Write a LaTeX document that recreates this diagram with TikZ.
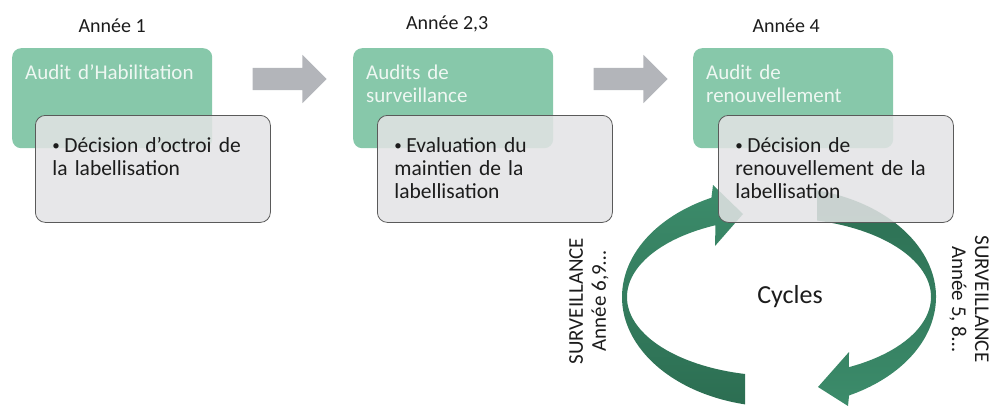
\documentclass[tikz,border=0pt]{standalone}
\usepackage{fontspec}
\setmainfont{Carlito}
\usetikzlibrary{positioning,shapes.arrows}

\definecolor{vertclair}{HTML}{87C8AA}
\definecolor{blanccasse}{HTML}{EEF7F2}
\definecolor{grisfond}{HTML}{E3E3E5}
\definecolor{grisbord}{HTML}{5A5A5A}
\definecolor{grisfleche}{HTML}{B3B5BA}
\definecolor{vertmoyen}{HTML}{3C8C6B}
\definecolor{vertfonce}{HTML}{2C6E52}
\definecolor{encre}{HTML}{1C1C1C}

\newcommand{\puce}{\hangindent=12pt\hangafter=1\makebox[12pt][l]{\raisebox{1.6pt}{\fontsize{15pt}{15pt}\selectfont\textbullet}}}

\begin{document}
\begin{tikzpicture}[x=1pt,y=-1pt]
  \tikzstyle{every node}=[font=\fontsize{21.5pt}{23pt}\selectfont, text=encre]
  \tikzstyle{etape}=[rectangle, rounded corners=9pt, fill=vertclair, text=blanccasse, font=\fontsize{21pt}{23pt}\selectfont, anchor=north west, text width=174pt, inner xsep=13pt, inner ysep=8pt, text height=23pt, text depth=61pt, align=left]
  \tikzstyle{detail}=[rectangle, rounded corners=10pt, draw=grisbord, line width=0.8pt, fill=grisfond, fill opacity=0.86, text opacity=1, anchor=north west, text width=201pt, inner xsep=17pt, inner ysep=8pt, text height=29pt, text depth=62pt, align=left]
  \tikzstyle{annee}=[font=\fontsize{20pt}{22pt}\selectfont]
  \tikzstyle{fleche}=[shape=single arrow, fill=grisfleche, single arrow head extend=13pt, minimum height=74pt, inner xsep=0pt, inner ysep=11pt, text height=0pt, text depth=0pt]
  \tikzstyle{survtxt}=[font=\fontsize{21pt}{23pt}\selectfont, align=center]

  \useasboundingbox (0,0) rectangle (991,407);

  % le cycle
  \coordinate (cyc) at (779,297);
  \shade[top color=vertmoyen, bottom color=vertfonce] ([shift={(102.5:157 and 110)}]cyc)
    arc[start angle=102.5, end angle=244.5, x radius=157, y radius=110]
    -- (713,185) -- (743,214) -- (715,246)
    -- ([shift={(245.3:152 and 79)}]cyc)
    arc[start angle=245.3, end angle=102.9, x radius=152, y radius=79] -- cycle;
  \shade[top color=vertfonce, bottom color=vertmoyen] ([shift={(284:157 and 110)}]cyc)
    arc[start angle=284, end angle=423.5, x radius=157, y radius=110]
    -- (848,406) -- (818,387) -- (849,352)
    -- ([shift={(422.6:152 and 79)}]cyc)
    arc[start angle=422.6, end angle=284.5, x radius=152, y radius=79] -- cycle;
  \node[font=\fontsize{26pt}{28pt}\selectfont] (cycles) at (790,297) {Cycles};
  \node[survtxt, rotate=90] (survg) at (589,301) {SURVEILLANCE\\Année 6,9…};
  \node[survtxt, rotate=-90] (survd) at (969,299) {SURVEILLANCE\\Année 5, 8…};

  % les etapes
  \node[etape] (hab) at (12,48) {Audit d’Habilitation};
  \node[etape] (surveil) at (353,48) {Audits de\\surveillance};
  \node[etape] (renouv) at (693,48) {Audit de\\renouvellement};

  \node[detail] (octroi) at ([shift={(23,67)}]hab.north west) {\puce Décision d’octroi de\newline la labellisation};
  \node[detail] (maintien) at ([shift={(24,67)}]surveil.north west) {\puce Evaluation du\newline maintien de la\newline labellisation};
  \node[detail] (decision) at ([shift={(25,67)}]renouv.north west) {\puce Décision de\newline renouvellement de la\newline labellisation};

  \node[annee, above=12pt of hab] (an1) {Année 1};
  \node[annee, above=12pt of surveil, xshift=-6pt] (an23) {Année 2,3};
  \node[annee, above=12pt of renouv, xshift=-7pt] (an4) {Année 4};

  \node[fleche] (fl1) at (284,79) {};
  \node[fleche] (fl2) at (625,79) {};
\end{tikzpicture}
\end{document}
